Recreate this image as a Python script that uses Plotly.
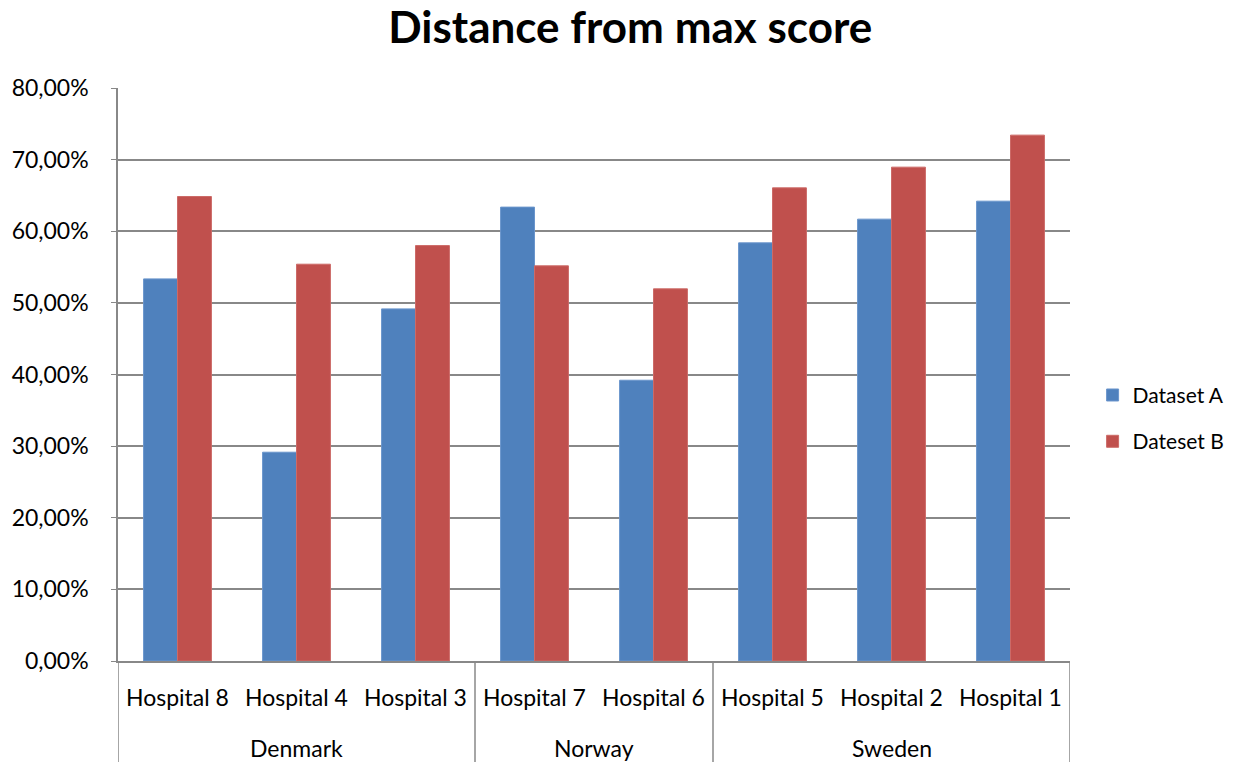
import plotly.graph_objects as go

# Hospitals grouped by country, in display order
countries = ["Denmark", "Norway", "Sweden"]
country_hospitals = [
    ["Hospital 8", "Hospital 4", "Hospital 3"],
    ["Hospital 7", "Hospital 6"],
    ["Hospital 5", "Hospital 2", "Hospital 1"],
]
hospitals = [h for grp in country_hospitals for h in grp]

# Distance from max score (fraction)
dataset_a = [0.5335, 0.2915, 0.4916, 0.6337, 0.3920, 0.5838, 0.6169, 0.6420]
dataset_b = [0.6485, 0.5540, 0.5800, 0.5517, 0.5196, 0.6606, 0.6895, 0.7342]

y_ticks = [0, 0.1, 0.2, 0.3, 0.4, 0.5, 0.6, 0.7, 0.8]

BLUE = "#4F81BD"
RED = "#C0504D"
GRID = "#888888"
FONT = "Lato, 'Open Sans', sans-serif"

xs = list(range(len(hospitals)))

fig = go.Figure()
fig.add_trace(go.Bar(
    x=xs, y=dataset_a, name="Dataset A", legendgroup="a",
    marker=dict(color=BLUE, line=dict(color="#6A95CC", width=1)),
))
fig.add_trace(go.Bar(
    x=xs, y=dataset_b, name="Dateset B", legendgroup="b",
    marker=dict(color=RED, line=dict(color="#CC6A67", width=1)),
))

shapes = []
annotations = []

# Country dividers running from the baseline down to the bottom edge
bounds = [-0.5]
pos = -0.5
for grp in country_hospitals:
    pos += len(grp)
    bounds.append(pos)
for b in bounds:
    shapes.append(dict(type="line", xref="x", yref="paper",
                       x0=b, x1=b, y0=0, y1=-0.18,
                       line=dict(color=GRID, width=1.5)))

# Hospital labels
for i, h in enumerate(hospitals):
    annotations.append(dict(x=i, y=-0.063, xref="x", yref="paper",
                            text=h, showarrow=False, xanchor="center",
                            yanchor="middle",
                            font=dict(size=23, family=FONT, color="#000000")))

# Country labels centred under their hospitals
start = 0
for c, grp in zip(countries, country_hospitals):
    centre = start + (len(grp) - 1) / 2
    annotations.append(dict(x=centre, y=-0.151, xref="x", yref="paper",
                            text=c, showarrow=False, xanchor="center",
                            yanchor="middle",
                            font=dict(size=23, family=FONT, color="#000000")))
    start += len(grp)

fig.update_layout(
    width=1243, height=762,
    margin=dict(l=118, r=173, t=88, b=101),
    paper_bgcolor="white", plot_bgcolor="white",
    separators=",.",
    barmode="group", bargap=0.43, bargroupgap=0,
    title=dict(text="<b>Distance from max score</b>", x=0.507, xanchor="center",
               y=0.964, yanchor="middle",
               font=dict(size=44, family=FONT, color="#000000")),
    font=dict(family=FONT, size=22, color="#000000"),
    xaxis=dict(range=[-0.5, 7.5], showticklabels=False, showgrid=False,
               zeroline=False, showline=True, linecolor=GRID, linewidth=1.5,
               ticks=""),
    yaxis=dict(range=[0, 0.8], tickvals=y_ticks, tickformat=".2%",
               showgrid=True, gridcolor=GRID, gridwidth=1.5,
               zeroline=False, showline=True, linecolor=GRID, linewidth=1.5,
               ticks="outside", ticklen=5, tickcolor=GRID,
               ticklabelstandoff=18,
               tickfont=dict(size=23, family=FONT, color="#000000")),
    legend=dict(xref="container", x=0.879, xanchor="left",
                yref="container", y=0.451, yanchor="middle",
                traceorder="grouped", tracegroupgap=16,
                font=dict(size=21, family=FONT, color="#000000")),
    shapes=shapes, annotations=annotations,
)

fig.write_html("out.html")
